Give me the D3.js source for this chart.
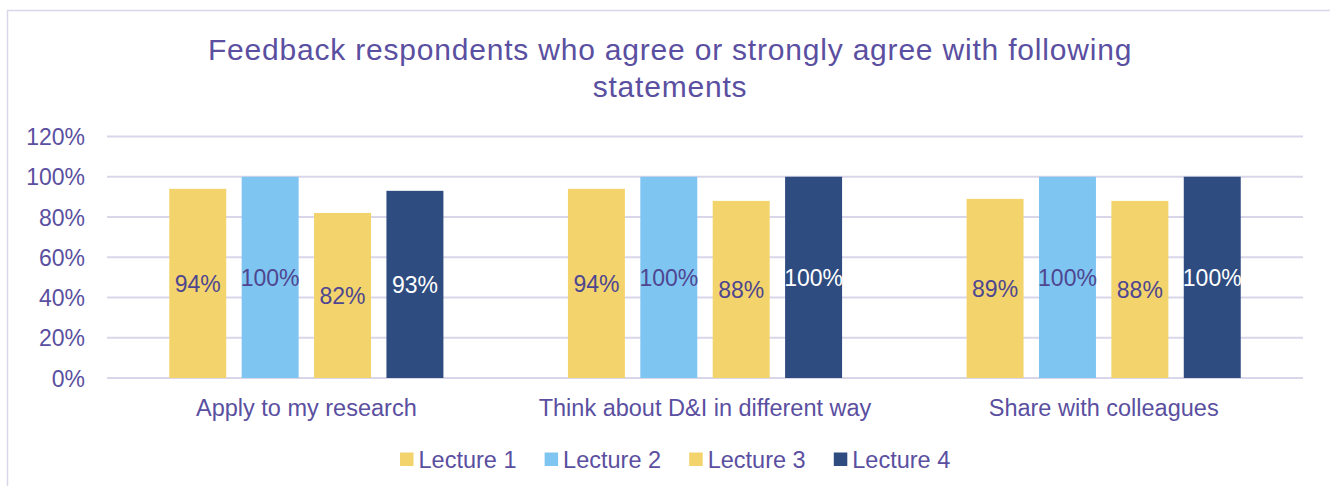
<!DOCTYPE html>
<html>
<head>
<meta charset="utf-8">
<script src="https://cdn.jsdelivr.net/npm/d3@7"></script>
<style>
  html, body { margin: 0; padding: 0; background: #ffffff; }
  svg { display: block; font-family: "Liberation Sans", Arial, sans-serif; }
</style>
</head>
<body>
<svg id="chart" width="1330" height="486"></svg>
<script>
const categories = ["Apply to my research", "Think about D&I in different way", "Share with colleagues"];
const seriesNames = ["Lecture 1", "Lecture 2", "Lecture 3", "Lecture 4"];
const lecture1 = [94, 94, 89];
const lecture2 = [100, 100, 100];
const lecture3 = [82, 88, 88];
const lecture4 = [93, 100, 100];
const yTicks = [0, 20, 40, 60, 80, 100, 120];
const titleLines = ["Feedback respondents who agree or strongly agree with following", "statements"];

const seriesValues = [lecture1, lecture2, lecture3, lecture4];
const colors = ["#f3d46c", "#7fc5f2", "#f3d46c", "#2e4c80"];
const labelColors = ["#4e4690", "#4e4690", "#4e4690", "#ffffff"];
const textColor = "#5a4fa0";
const gridColor = "#dad6ea";

const svg = d3.select("#chart");

// frame
svg.append("rect")
  .attr("x", 7.5).attr("y", 10.5)
  .attr("width", 1340).attr("height", 500)
  .attr("fill", "none").attr("stroke", gridColor).attr("stroke-width", 1.5);

// title
const title = svg.append("text")
  .attr("text-anchor", "middle")
  .attr("fill", textColor)
  .style("font-size", "30px")
  .style("letter-spacing", "0.8px");
titleLines.forEach((l, i) => {
  title.append("tspan").attr("x", 670).attr("y", 59.5 + i * 37).text(l);
});

const plotLeft = 107, plotRight = 1303, plotTop = 136.5, plotBottom = 378;

const y = d3.scaleLinear().domain([0, 120]).range([plotBottom, plotTop]);
const x0 = d3.scaleBand().domain(categories).range([plotLeft, plotRight]).paddingInner(0).paddingOuter(0);
const x1 = d3.scaleBand().domain(seriesNames).range([0, x0.bandwidth()]).paddingInner(0.213).paddingOuter(0.86);

// gridlines
svg.append("g").selectAll("line").data(yTicks).join("line")
  .attr("x1", plotLeft).attr("x2", plotRight)
  .attr("y1", d => y(d)).attr("y2", d => y(d))
  .attr("stroke", gridColor).attr("stroke-width", 2);

// y axis labels
const yAxis = d3.axisLeft(y).tickValues(yTicks).tickFormat(d => d + "%").tickSize(0).tickPadding(22);
const ya = svg.append("g").attr("transform", `translate(${plotLeft},0)`).call(yAxis);
ya.select(".domain").remove();
ya.selectAll("text").attr("fill", textColor).style("font-size", "23px").attr("dy", "0.35em")
  .style("font-family", '"Liberation Sans", Arial, sans-serif');

// bars
const flat = [];
categories.forEach((c, ci) => {
  seriesNames.forEach((s, si) => {
    flat.push({ cat: c, series: s, si, value: seriesValues[si][ci] });
  });
});

const bars = svg.append("g");
bars.selectAll("rect").data(flat).join("rect")
  .attr("x", d => x0(d.cat) + x1(d.series))
  .attr("width", x1.bandwidth())
  .attr("y", d => y(d.value))
  .attr("height", d => y(0) - y(d.value))
  .attr("fill", d => colors[d.si]);

// data labels
bars.selectAll("text").data(flat).join("text")
  .attr("x", d => x0(d.cat) + x1(d.series) + x1.bandwidth() / 2)
  .attr("y", d => y(d.value / 2))
  .attr("dy", "0.36em")
  .attr("text-anchor", "middle")
  .attr("fill", d => labelColors[d.si])
  .style("font-size", "23px")
  .text(d => d.value + "%");

// x axis labels
const xAxis = d3.axisBottom(x0).tickSize(0).tickPadding(0);
const xa = svg.append("g").attr("transform", `translate(0,${plotBottom})`).call(xAxis);
xa.select(".domain").remove();
xa.selectAll("text").attr("fill", textColor).style("font-size", "23.5px")
  .attr("y", 38).attr("dy", 0)
  .style("font-family", '"Liberation Sans", Arial, sans-serif');

// legend
const legend = svg.append("g");
const lg = legend.selectAll("g").data(seriesNames).join("g")
  .attr("transform", (d, i) => `translate(${400 + i * 144.6},452.5)`);
lg.append("rect").attr("width", 13.5).attr("height", 13.5).attr("fill", (d, i) => colors[i]);
lg.append("text").attr("x", 18.5).attr("y", 15.5).attr("fill", textColor)
  .style("font-size", "23.5px").text(d => d);
</script>
</body>
</html>
